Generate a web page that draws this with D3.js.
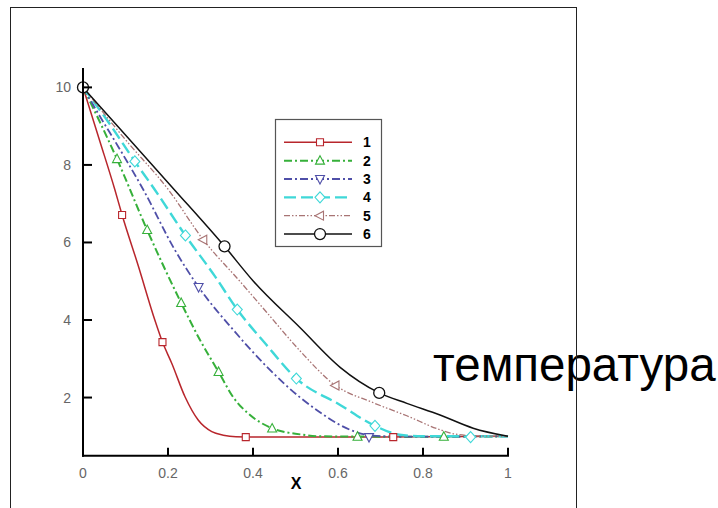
<!DOCTYPE html>
<html>
<head>
<meta charset="utf-8">
<script src="https://cdn.jsdelivr.net/npm/d3@7"></script>
<style>
  body { margin: 0; background: #fff; }
  svg { display: block; }
</style>
</head>
<body>
<div id="chart"></div>
<script>
// curve data, [x, value]
var s1 = [[0,10],[0.04,8.6],[0.075,7.36],[0.092,6.71],[0.13,5.4],[0.169,4.0],[0.187,3.43],[0.209,2.88],[0.24,2.02],[0.271,1.42],[0.303,1.12],[0.33,1.03],[0.36,0.99],[0.45,0.98],[0.7,0.98],[1,1.0]];
var s2 = [[0,10],[0.04,9.1],[0.08,8.15],[0.151,6.32],[0.231,4.44],[0.275,3.49],[0.319,2.66],[0.354,2.0],[0.393,1.55],[0.444,1.21],[0.511,1.05],[0.56,1.0],[0.8,0.99],[1,1.0]];
var s3 = [[0,10],[0.04,9.25],[0.083,8.47],[0.142,7.36],[0.216,5.81],[0.272,4.85],[0.354,3.74],[0.432,2.8],[0.511,2.0],[0.56,1.6],[0.6,1.32],[0.64,1.12],[0.68,1.02],[0.75,0.99],[1,1.0]];
var s4 = [[0,10],[0.06,9.1],[0.122,8.09],[0.169,7.36],[0.241,6.18],[0.311,5.12],[0.363,4.27],[0.43,3.38],[0.502,2.49],[0.605,1.81],[0.687,1.27],[0.745,1.04],[0.8,1.0],[1,1.0]];
var s5 = [[0,10],[0.1,8.65],[0.201,7.36],[0.283,6.07],[0.369,5.0],[0.432,4.2],[0.511,3.2],[0.593,2.32],[0.68,1.88],[0.762,1.53],[0.84,1.17],[0.88,1.05],[0.93,1.01],[1,1.0]];
var s6 = [[0,10],[0.1,8.77],[0.216,7.35],[0.333,5.9],[0.401,5.0],[0.511,3.8],[0.605,2.78],[0.697,2.12],[0.762,1.85],[0.84,1.55],[0.918,1.21],[1,1.0]];

// symbol positions on each curve
var m1 = [[0,10],[0.092,6.71],[0.187,3.43],[0.383,0.98],[0.73,0.98]];
var m2 = [[0.08,8.15],[0.151,6.32],[0.231,4.44],[0.319,2.66],[0.445,1.2],[0.646,0.99],[0.849,0.99]];
var m3 = [[0.272,4.85],[0.673,0.98]];
var m4 = [[0.122,8.09],[0.241,6.18],[0.363,4.27],[0.502,2.49],[0.687,1.27],[0.912,0.98]];
var m5 = [[0.283,6.07],[0.594,2.31]];
var m6 = [[0,10],[0.333,5.9],[0.697,2.12]];

var names = ["1", "2", "3", "4", "5", "6"];
var xTicks = [0, 0.2, 0.4, 0.6, 0.8, 1];
var yTicks = [2, 4, 6, 8, 10];

var series = [
    {name: names[0], pts: s1, marks: m1, color: "#b8262c", dash: null, w: 1.5, sym: "square"},
    {name: names[1], pts: s2, marks: m2, color: "#36b03a", dash: "8,3,2,3", w: 2, sym: "up"},
    {name: names[2], pts: s3, marks: m3, color: "#4f4fa8", dash: "8,3,2,3", w: 1.8, sym: "down"},
    {name: names[3], pts: s4, marks: m4, color: "#3fd8d8", dash: "12,5", w: 2.4, sym: "diamond"},
    {name: names[4], pts: s5, marks: m5, color: "#a87474", dash: "6,2,1.5,2,1.5,2", w: 1.3, sym: "left"},
    {name: names[5], pts: s6, marks: m6, color: "#111", dash: null, w: 1.5, sym: "circle"}
];

var W = 718, H = 508;
var svg = d3.select("#chart").append("svg")
    .attr("width", W)
    .attr("height", H);

var x = d3.scaleLinear().domain([0, 1]).range([83, 508]);
var y = d3.scaleLinear().domain([0.5, 10.5]).range([455.7, 68]);

// side caption (drawn under the frame line)
svg.append("text")
    .attr("x", 433)
    .attr("y", 381)
    .style("font-family", "'Liberation Sans', Arial, sans-serif")
    .style("font-size", "47.5px")
    .attr("fill", "#000")
    .text("температура");

// outer frame
svg.append("rect")
    .attr("x", 10.5)
    .attr("y", 7.5)
    .attr("width", 566)
    .attr("height", 520)
    .attr("fill", "none")
    .attr("stroke", "#222")
    .attr("stroke-width", 1);

var line = d3.line()
    .x(function(d) { return x(d[0]); })
    .y(function(d) { return y(d[1]); })
    .curve(d3.curveMonotoneX);

function drawSymbol(g, type, cx, cy, color) {
    if (type == "circle") {
        g.append("circle").attr("cx", cx).attr("cy", cy).attr("r", 5.5)
            .attr("fill", "#fff").attr("stroke", color).attr("stroke-width", 1.3);
        return;
    }
    var p;
    if (type == "square") p = [[-3.5,-3.5],[3.5,-3.5],[3.5,3.5],[-3.5,3.5]];
    else if (type == "up") p = [[0,-5],[4.5,3.5],[-4.5,3.5]];
    else if (type == "down") p = [[0,5],[4.5,-3.5],[-4.5,-3.5]];
    else if (type == "diamond") p = [[0,-5.5],[5,0],[0,5.5],[-5,0]];
    else p = [[-5,0],[3.5,-4.5],[3.5,4.5]];
    g.append("polygon")
        .attr("points", p.map(function(q) { return (cx + q[0]) + "," + (cy + q[1]); }).join(" "))
        .attr("fill", "#fff")
        .attr("stroke", color)
        .attr("stroke-width", 1.1);
}

// curves
series.forEach(function(s) {
    svg.append("path")
        .datum(s.pts)
        .attr("d", line)
        .attr("fill", "none")
        .attr("stroke", s.color)
        .attr("stroke-width", s.w)
        .attr("stroke-dasharray", s.dash);
});
series.forEach(function(s) {
    s.marks.forEach(function(d) {
        drawSymbol(svg, s.sym, x(d[0]), y(d[1]), s.color);
    });
});

// axes
var tickFont = "'Liberation Sans', Arial, sans-serif";
svg.append("line")
    .attr("x1", x(0)).attr("x2", x(0))
    .attr("y1", y(10.5)).attr("y2", y(0.5) + 1)
    .attr("stroke", "#000").attr("stroke-width", 2);
svg.append("line")
    .attr("x1", x(0) - 1).attr("x2", x(1) + 1)
    .attr("y1", y(0.5)).attr("y2", y(0.5))
    .attr("stroke", "#000").attr("stroke-width", 2);

svg.selectAll(".ytick")
    .data(yTicks)
    .enter().append("line")
    .attr("x1", x(0)).attr("x2", x(0) + 9)
    .attr("y1", function(d) { return y(d); })
    .attr("y2", function(d) { return y(d); })
    .attr("stroke", "#000").attr("stroke-width", 2);
svg.selectAll(".ylab")
    .data(yTicks)
    .enter().append("text")
    .attr("x", x(0) - 12)
    .attr("y", function(d) { return y(d) + 5; })
    .attr("text-anchor", "end")
    .style("font-family", tickFont)
    .style("font-size", "14px")
    .attr("fill", "#666")
    .text(function(d) { return d; });

svg.selectAll(".xtick")
    .data(xTicks.slice(1))
    .enter().append("line")
    .attr("x1", function(d) { return x(d); })
    .attr("x2", function(d) { return x(d); })
    .attr("y1", y(0.5)).attr("y2", y(0.5) - 8)
    .attr("stroke", "#000").attr("stroke-width", 2);
svg.selectAll(".xlab")
    .data(xTicks)
    .enter().append("text")
    .attr("x", function(d) { return x(d); })
    .attr("y", 478)
    .attr("text-anchor", "middle")
    .style("font-family", tickFont)
    .style("font-size", "14px")
    .attr("fill", "#666")
    .text(function(d) { return d; });

svg.append("text")
    .attr("x", 296)
    .attr("y", 489)
    .attr("text-anchor", "middle")
    .style("font-family", tickFont)
    .style("font-size", "16px")
    .style("font-weight", "bold")
    .text("X");

// legend
var lg = svg.append("g");
lg.append("rect")
    .attr("x", 275.5).attr("y", 119.5)
    .attr("width", 106).attr("height", 127)
    .attr("fill", "#fff")
    .attr("stroke", "#555").attr("stroke-width", 1.2);
series.forEach(function(s, i) {
    var ly = 142.3 + i * 18.35;
    lg.append("line")
        .attr("x1", 284).attr("x2", 352)
        .attr("y1", ly).attr("y2", ly)
        .attr("stroke", s.color)
        .attr("stroke-width", s.w)
        .attr("stroke-dasharray", s.dash);
    drawSymbol(lg, s.sym, 320, ly, s.color);
    lg.append("text")
        .attr("x", 367)
        .attr("y", ly + 5)
        .attr("text-anchor", "middle")
        .style("font-family", tickFont)
        .style("font-size", "14px")
        .style("font-weight", "bold")
        .text(s.name);
});
</script>
</body>
</html>
